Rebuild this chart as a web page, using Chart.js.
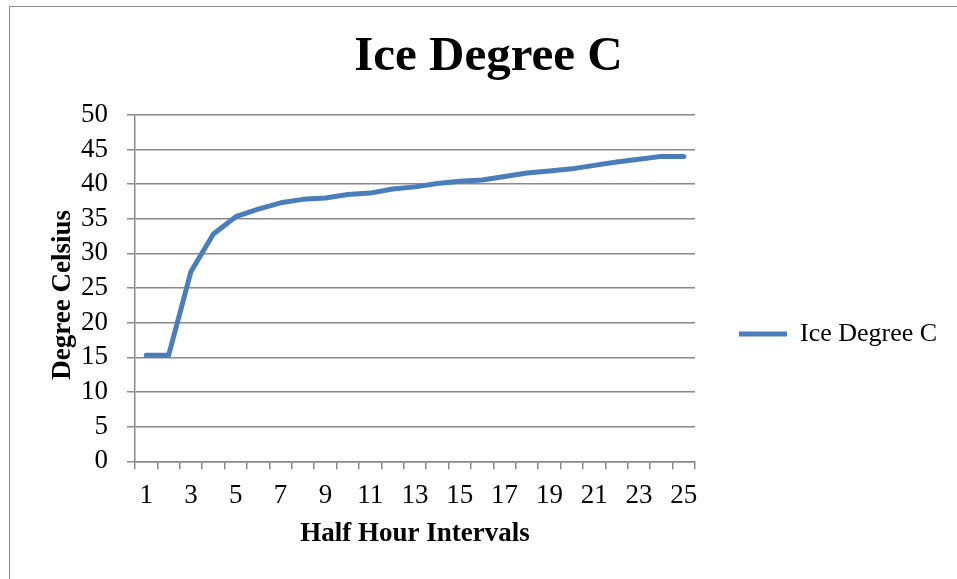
<!DOCTYPE html>
<html>
<head>
<meta charset="utf-8">
<title>Ice Degree C</title>
<script src="https://cdn.jsdelivr.net/npm/chart.js@4.4.1/dist/chart.umd.min.js"></script>
<style>
    html, body { margin: 0; padding: 0; background: #fff; }
    #wrap { position: relative; width: 957px; height: 579px; overflow: hidden; }
    #frame {
        position: absolute; left: 9px; top: 6px; width: 1000px; height: 700px;
        border: 1px solid #8a8a8a; box-sizing: border-box;
    }
    #chart { position: absolute; left: 0; top: 0; }
</style>
</head>
<body>
<div id="wrap">
    <div id="frame"></div>
    <canvas id="chart" width="957" height="579"></canvas>
</div>
<script>
// Chart data
const intervals = ['1', '2', '3', '4', '5', '6', '7', '8', '9', '10', '11', '12', '13',
    '14', '15', '16', '17', '18', '19', '20', '21', '22', '23', '24', '25'];
const iceDegrees = [15.3, 15.3, 27.4, 32.8, 35.3, 36.4, 37.3, 37.8, 38.0, 38.5, 38.7, 39.3, 39.6,
    40.1, 40.4, 40.6, 41.1, 41.6, 41.9, 42.2, 42.7, 43.2, 43.6, 44.0, 44.0];
const yTicks = { min: 0, max: 50, step: 5 };

const serif = 'Liberation Serif';
const gridGray = '#8a8a8a';

// Put the legend where the reference has it
const legendPlacement = {
    id: 'legendPlacement',
    afterInit(chart) {
        const legend = chart.legend;
        const fit = legend.fit.bind(legend);
        legend.fit = function() {
            fit();
            this.width = 242;
        };
    },
    afterLayout(chart) {
        const legend = chart.legend;
        legend.top = 334 - 60;
        legend.bottom = 334 + 60;
        legend.height = 120;
    }
};

new Chart(document.getElementById('chart').getContext('2d'), {
    type: 'line',
    data: {
        labels: intervals,
        datasets: [{
            label: 'Ice Degree C',
            data: iceDegrees,
            borderColor: '#4a7ebb',
            backgroundColor: '#4a7ebb',
            borderWidth: 5,
            borderCapStyle: 'round',
            borderJoinStyle: 'round',
            pointRadius: 0,
            pointHoverRadius: 0,
            pointStyle: 'line',
            tension: 0,
            fill: false
        }]
    },
    options: {
        responsive: false,
        animation: false,
        devicePixelRatio: 1,
        layout: {
            padding: { top: 0, left: 40, right: 20, bottom: 33 }
        },
        scales: {
            x: {
                type: 'category',
                offset: true,
                grid: {
                    offset: true,
                    drawOnChartArea: false,
                    drawTicks: true,
                    tickLength: 8,
                    color: gridGray,
                    lineWidth: 1.5
                },
                border: { display: true, color: gridGray, width: 1.5 },
                ticks: {
                    autoSkip: false,
                    maxRotation: 0,
                    padding: 10,
                    color: '#000',
                    font: { family: serif, size: 27 },
                    callback: function(value, index) {
                        return index % 2 === 0 ? this.getLabelForValue(value) : '';
                    }
                },
                title: {
                    display: true,
                    text: 'Half Hour Intervals',
                    color: '#000',
                    padding: { top: 0, bottom: 0 },
                    font: { family: serif, size: 27, weight: 'bold', lineHeight: 0.9 }
                }
            },
            y: {
                min: yTicks.min,
                max: yTicks.max,
                afterFit: function(scale) {
                    scale.width = 95;
                },
                grid: {
                    drawTicks: true,
                    tickLength: 8,
                    color: gridGray,
                    lineWidth: 1.5
                },
                border: { display: true, color: gridGray, width: 1.5 },
                ticks: {
                    stepSize: yTicks.step,
                    autoSkip: false,
                    maxTicksLimit: 20,
                    padding: 19,
                    color: '#000',
                    font: { family: serif, size: 27, lineHeight: 1 }
                },
                title: {
                    display: true,
                    text: 'Degree Celsius  ',
                    color: '#000',
                    padding: { top: 11, bottom: 0 },
                    font: { family: serif, size: 27, weight: 'bold', lineHeight: 0.9 }
                }
            }
        },
        plugins: {
            title: {
                display: true,
                text: 'Ice Degree C',
                color: '#000',
                padding: { top: 28, bottom: 28 },
                font: { family: serif, size: 49, weight: 'bold', lineHeight: 1.2 }
            },
            legend: {
                display: true,
                position: 'right',
                align: 'center',
                labels: {
                    usePointStyle: true,
                    pointStyleWidth: 48,
                    padding: 44,
                    color: '#000',
                    font: { family: serif, size: 26 }
                }
            },
            tooltip: { enabled: false }
        }
    },
    plugins: [legendPlacement]
});
</script>
</body>
</html>
